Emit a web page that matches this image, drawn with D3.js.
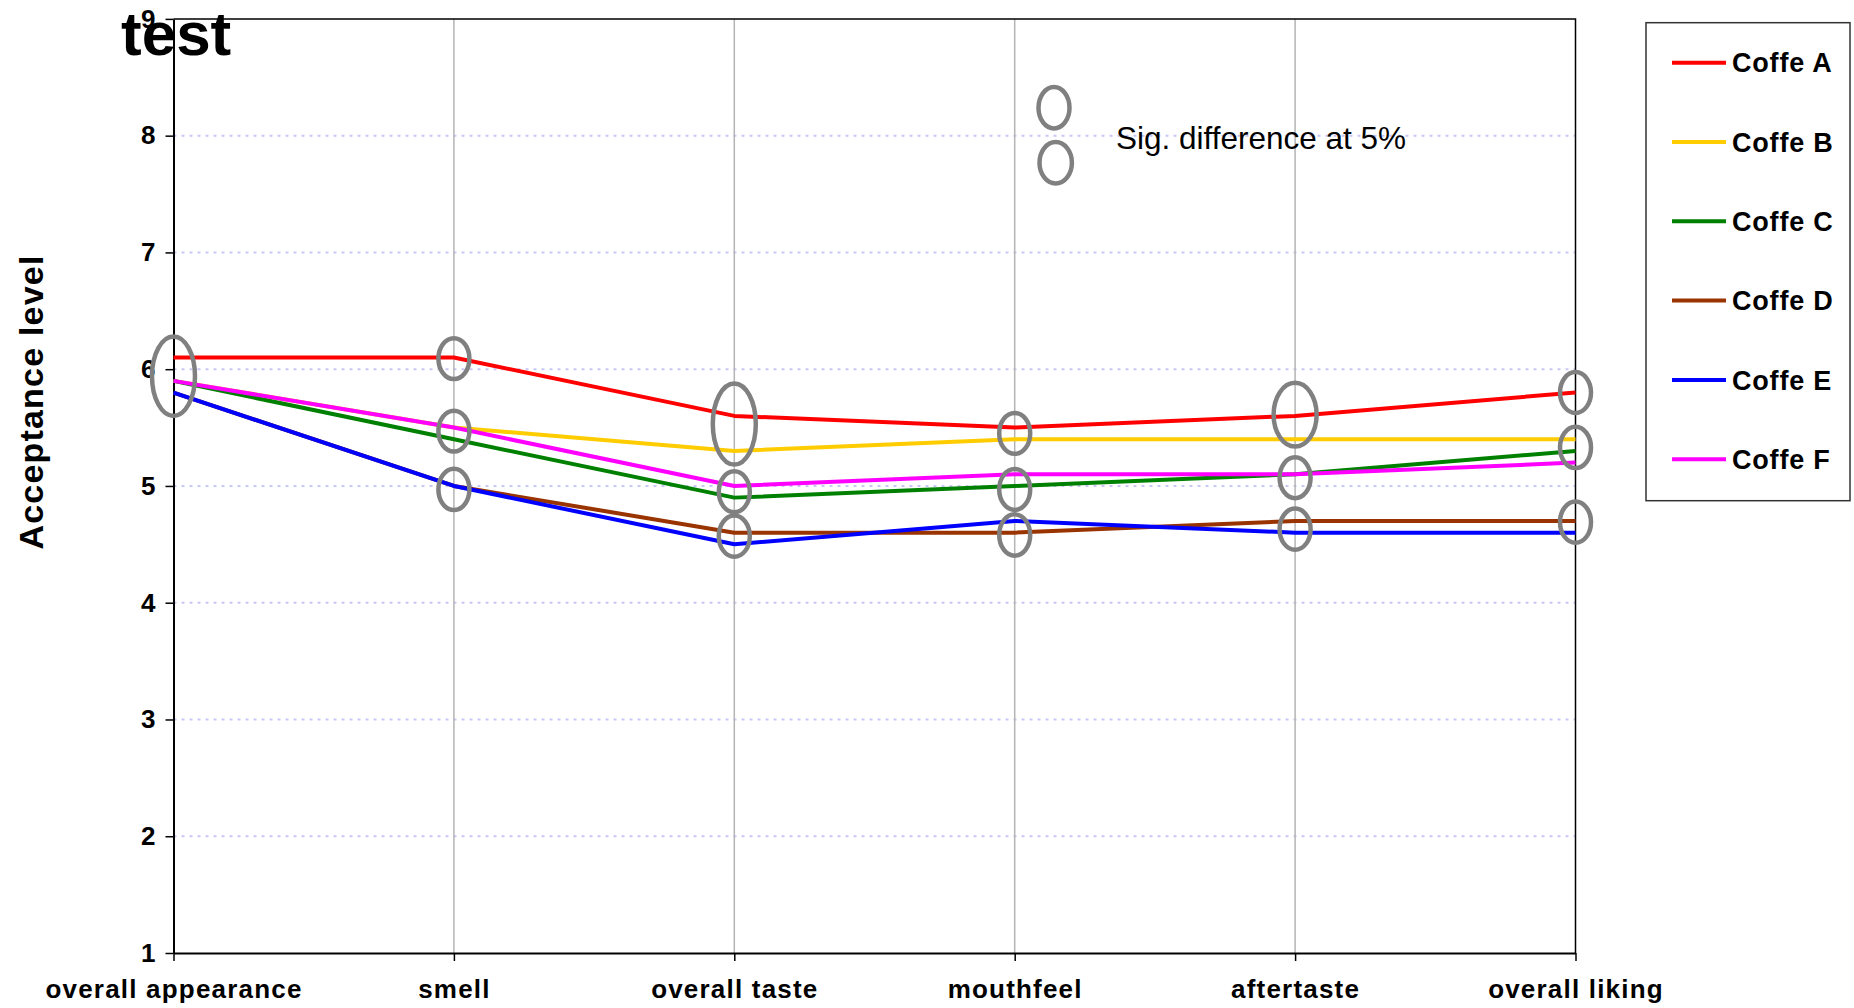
<!DOCTYPE html>
<html>
<head>
<meta charset="utf-8">
<script src="https://cdn.jsdelivr.net/npm/d3@7"></script>
<style>
  html, body { margin: 0; padding: 0; background: #fff; }
  svg { display: block; font-family: "Liberation Sans", Arial, sans-serif; }
</style>
</head>
<body>
<svg id="chart" width="1854" height="1008"></svg>
<script>
// Sensory attributes (x categories)
const categories = ["overall appearance", "smell", "overall taste", "mouthfeel", "aftertaste", "overall liking"];

// Mean acceptance scores per coffee
const coffeA = [6.1, 6.1, 5.6, 5.5, 5.6, 5.8];
const coffeB = [5.9, 5.5, 5.3, 5.4, 5.4, 5.4];
const coffeC = [5.9, 5.4, 4.9, 5.0, 5.1, 5.3];
const coffeD = [5.8, 5.0, 4.6, 4.6, 4.7, 4.7];
const coffeE = [5.8, 5.0, 4.5, 4.7, 4.6, 4.6];
const coffeF = [5.9, 5.5, 5.0, 5.1, 5.1, 5.2];

const seriesNames = ["Coffe A", "Coffe B", "Coffe C", "Coffe D", "Coffe E", "Coffe F"];
const seriesValues = [coffeA, coffeB, coffeC, coffeD, coffeE, coffeF];
const seriesColors = ["#ff0000", "#ffcc00", "#008000", "#993300", "#0000ff", "#ff00ff"];

// Y axis ticks
const yTicks = [1, 2, 3, 4, 5, 6, 7, 8, 9];

// Groups flagged as significantly different at 5%: attribute, centre score, half-span in score units
const sigCats = ["overall appearance", "smell", "smell", "smell",
                 "overall taste", "overall taste", "overall taste",
                 "mouthfeel", "mouthfeel", "mouthfeel",
                 "aftertaste", "aftertaste", "aftertaste",
                 "overall liking", "overall liking", "overall liking"];
const sigMid  = [5.94, 6.09, 5.47, 4.97, 5.53, 4.95, 4.57, 5.45, 4.97, 4.58, 5.61, 5.07, 4.63, 5.80, 5.33, 4.69];
const sigHalf = [0.34, 0.175, 0.175, 0.177, 0.347, 0.175, 0.177, 0.175, 0.175, 0.177, 0.273, 0.175, 0.177, 0.175, 0.177, 0.177];

const svg = d3.select("#chart");

const plot = { left: 173.5, right: 1575.5, top: 18.9, bottom: 953 };

const x = d3.scalePoint().domain(categories).range([plot.left, plot.right]).padding(0);
const y = d3.scaleLinear().domain([1, 9]).range([plot.bottom, plot.top]);

// Horizontal dotted gridlines
svg.append("g")
  .selectAll("line")
  .data(yTicks.filter(t => t > 1 && t < 9))
  .join("line")
  .attr("x1", plot.left).attr("x2", plot.right)
  .attr("y1", d => y(d)).attr("y2", d => y(d))
  .attr("stroke", "#c8c8f6")
  .attr("stroke-width", 2)
  .attr("stroke-dasharray", "3,5");

// Vertical gridlines at each attribute
svg.append("g")
  .selectAll("line")
  .data(categories.slice(1, -1))
  .join("line")
  .attr("x1", d => x(d)).attr("x2", d => x(d))
  .attr("y1", plot.top).attr("y2", plot.bottom)
  .attr("stroke", "#b4b4b4")
  .attr("stroke-width", 1.5);

// Plot frame (top and right edges)
svg.append("path")
  .attr("d", `M${plot.left},${plot.top}H${plot.right}V${plot.bottom}`)
  .attr("fill", "none")
  .attr("stroke", "#000")
  .attr("stroke-width", 1.5);

// Y axis
const yAxis = svg.append("g")
  .attr("transform", `translate(${plot.left},0)`)
  .call(d3.axisLeft(y).tickValues(yTicks).tickFormat(d3.format("d")).tickSize(8).tickSizeOuter(0).tickPadding(10));
yAxis.select(".domain").attr("stroke", "#000").attr("stroke-width", 2);
yAxis.selectAll(".tick line").attr("stroke", "#000").attr("stroke-width", 1.5);
yAxis.selectAll(".tick text")
  .attr("font-size", 26).attr("font-weight", "bold").attr("fill", "#000")
  .attr("font-family", "'Liberation Sans', Arial, sans-serif");

// X axis
const xAxis = svg.append("g")
  .attr("transform", `translate(0,${plot.bottom})`)
  .call(d3.axisBottom(x).tickSize(8).tickSizeOuter(0).tickPadding(19));
xAxis.select(".domain").attr("stroke", "#000").attr("stroke-width", 2);
xAxis.selectAll(".tick line").attr("stroke", "#000").attr("stroke-width", 1.5);
xAxis.selectAll(".tick text")
  .attr("font-size", 26).attr("font-weight", "bold").attr("fill", "#000")
  .attr("letter-spacing", "1.2px")
  .attr("font-family", "'Liberation Sans', Arial, sans-serif");

// Series lines
const line = d3.line()
  .x((d, i) => x(categories[i]))
  .y(d => y(d));

svg.append("g")
  .selectAll("path")
  .data(seriesValues)
  .join("path")
  .attr("d", d => line(d))
  .attr("fill", "none")
  .attr("stroke", (d, i) => seriesColors[i])
  .attr("stroke-width", 4)
  .attr("stroke-linejoin", "round");

// Significance ellipses
svg.append("g")
  .selectAll("ellipse")
  .data(sigCats.map((c, i) => ({ cat: c, mid: sigMid[i], half: sigHalf[i] })))
  .join("ellipse")
  .attr("cx", d => x(d.cat))
  .attr("cy", d => y(d.mid))
  .attr("rx", d => d.half > 0.2 ? 21.5 : 15.5)
  .attr("ry", d => y(d.mid - d.half) - y(d.mid))
  .attr("fill", "none")
  .attr("stroke", "#808080")
  .attr("stroke-width", 4.5);

// Significance key
const key = svg.append("g");
key.append("ellipse").attr("cx", 1054).attr("cy", 107.7).attr("rx", 15.5).attr("ry", 20.7)
  .attr("fill", "none").attr("stroke", "#808080").attr("stroke-width", 4.5);
key.append("ellipse").attr("cx", 1055.7).attr("cy", 162.7).attr("rx", 16.2).attr("ry", 20.7)
  .attr("fill", "none").attr("stroke", "#808080").attr("stroke-width", 4.5);
key.append("text")
  .attr("x", 1116).attr("y", 149)
  .attr("font-size", 31.5).attr("fill", "#000")
  .text("Sig. difference at 5%");

// Title
svg.append("text")
  .attr("x", 121).attr("y", 55)
  .attr("font-size", 62).attr("font-weight", "bold").attr("fill", "#000")
  .text("test");

// Y axis title
svg.append("text")
  .attr("transform", "translate(43,402) rotate(-90)")
  .attr("text-anchor", "middle")
  .attr("font-size", 34).attr("font-weight", "bold").attr("fill", "#000")
  .attr("letter-spacing", "1.2px")
  .text("Acceptance level");

// Legend
const legend = svg.append("g");
legend.append("rect")
  .attr("x", 1646).attr("y", 22.7).attr("width", 204).attr("height", 478)
  .attr("fill", "#fff").attr("stroke", "#333").attr("stroke-width", 1.5);

const legendItems = legend.selectAll("g.item")
  .data(seriesNames)
  .join("g")
  .attr("class", "item")
  .attr("transform", (d, i) => `translate(0,${62.7 + i * 79.3})`);
legendItems.append("line")
  .attr("x1", 1672).attr("x2", 1726)
  .attr("stroke", (d, i) => seriesColors[i])
  .attr("stroke-width", 4);
legendItems.append("text")
  .attr("x", 1732).attr("dy", "0.36em")
  .attr("font-size", 27).attr("font-weight", "bold").attr("fill", "#000")
  .attr("letter-spacing", "0.8px")
  .text(d => d);
</script>
</body>
</html>
